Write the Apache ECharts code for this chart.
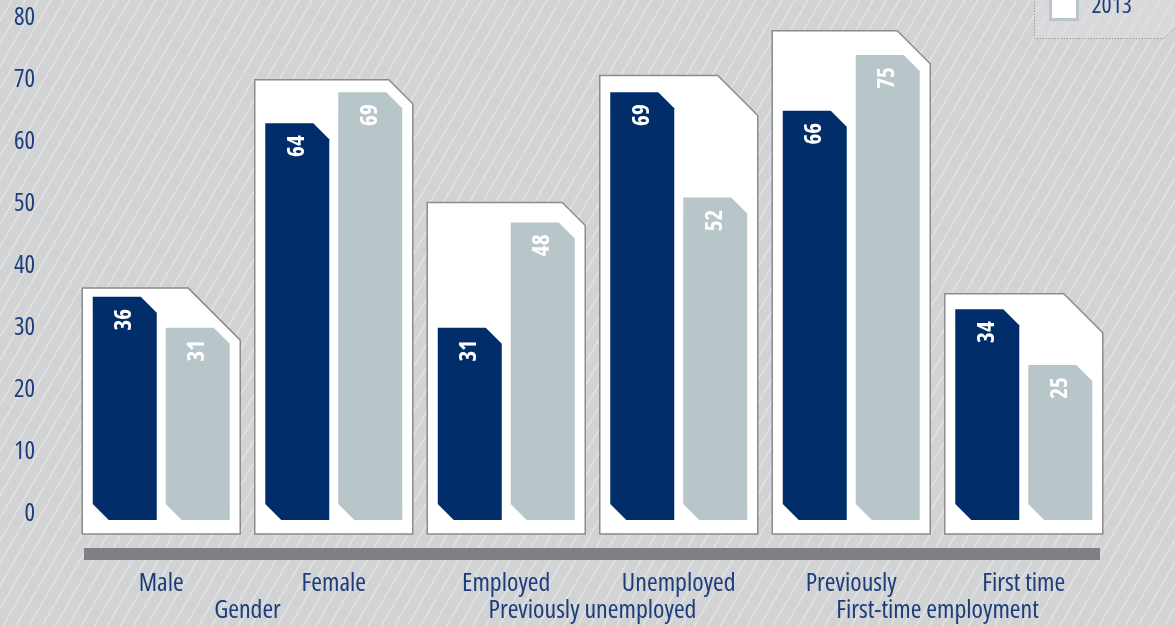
<!DOCTYPE html>
<html>
<head>
<meta charset="utf-8">
<script src="https://cdn.jsdelivr.net/npm/echarts@6/dist/echarts.min.js"></script>
<style>
  html, body { margin: 0; padding: 0; }
  body {
    width: 1175px; height: 626px; overflow: hidden;
    background: repeating-linear-gradient(120deg, #d2d3d5 0px, #d2d3d5 9.6px, #dfe0e2 9.6px, #dfe0e2 11.3px);
  }
  #chart { width: 1175px; height: 626px; }
</style>
</head>
<body>
<div id="chart"></div>
<script>
// Share of respondents by group, two survey years
const categories = ['Male', 'Female', 'Employed', 'Unemployed', 'Previously', 'First time'];
const groups = ['Gender', 'Previously unemployed', 'First-time employment'];
const values2012 = [36, 64, 31, 69, 66, 34];
const values2013 = [31, 69, 48, 52, 75, 25];
// height of the white frame drawn behind each pair of bars
const frameTop = [37.4, 71.0, 51.2, 71.7, 78.9, 36.5];
const yTicks = [0, 10, 20, 30, 40, 50, 60, 70, 80];

const NAVY = '#012e6b';
const SILVER = '#b8c6ca';
const TEXT = '#1c3d7c';
const frameCorner = [52, 24, 23, 40, 33, 39];

// Pick the narrowest installed sans face (condensed width if the family offers one)
const FONT = (function () {
  const ctx = document.createElement('canvas').getContext('2d');
  const probe = 'Employed';
  function exists(family) {
    ctx.font = '40px monospace';
    const a = ctx.measureText('Employed 0123 Wil').width;
    ctx.font = '40px ' + family + ', monospace';
    const b = ctx.measureText('Employed 0123 Wil').width;
    return Math.abs(a - b) > 0.5;
  }
  function width(stretch, family) {
    ctx.font = '10px serif';
    const f = stretch + ' normal 24px ' + family;
    ctx.font = f;
    if (ctx.font === '10px serif') return Infinity;
    return ctx.measureText(probe).width;
  }
  const cands = [
    ["'Liberation Sans Narrow'", ''],
    ['Roboto', 'condensed'],
    ["'Open Sans'", 'condensed'],
    ["'Noto Sans'", 'condensed'],
    ["'DejaVu Sans'", 'condensed'],
    ["'Liberation Sans'", '']
  ];
  let best = { family: "'Liberation Sans', sans-serif", stretch: '', w: width('', "'Liberation Sans'") };
  cands.forEach(function (c) {
    if (!exists(c[0])) return;
    const w = width(c[1], c[0]);
    if (w < best.w - 0.5) best = { family: c[0] + ', sans-serif', stretch: c[1], w: w };
  });
  // scale so that the label widths come out close to the artwork
  const k = Math.max(0.82, Math.min(1.08, 92 / best.w));
  return { family: best.family, stretch: best.stretch, k: k };
})();

function fs(px) { return Math.round(px * FONT.k * 10) / 10; }
function textStyleOf(px, extra) {
  const s = { color: TEXT, fontSize: fs(px), fontFamily: FONT.family };
  if (FONT.stretch) s.fontStyle = FONT.stretch;
  return Object.assign(s, extra || {});
}

function barRenderer(side, color) {
  return function (params, api) {
    const i = api.value(0);
    const v = api.value(1);
    const top = api.coord([i, v]);
    const base = api.coord([i, 0]);
    const band = api.size([1, 0])[0];
    const w = band * 0.371;
    const cx = top[0] + side * band * 0.2115;
    const x0 = cx - w / 2, x1 = cx + w / 2;
    const c = 16;
    const yt = top[1], yb = base[1];
    const labelStyle = {
      text: String(v), fill: '#ffffff',
      fontSize: fs(21.5), fontWeight: 'bold', fontFamily: FONT.family,
      align: 'right', verticalAlign: 'middle'
    };
    if (FONT.stretch) labelStyle.fontStyle = FONT.stretch;
    return {
      type: 'group',
      children: [
        {
          type: 'polygon',
          shape: { points: [[x0, yt], [x1 - c, yt], [x1, yt + c], [x1, yb], [x0 + c, yb], [x0, yb - c]] },
          style: { fill: color }
        },
        {
          type: 'text',
          x: cx, y: yt + 12,
          rotation: Math.PI / 2,
          style: labelStyle
        }
      ]
    };
  };
}

function frameRenderer(params, api) {
  const i = api.value(0);
  const v = api.value(1);
  const top = api.coord([i, v]);
  const base = api.coord([i, 0]);
  const band = api.size([1, 0])[0];
  const w = band * 0.916;
  const x0 = top[0] - w / 2, x1 = top[0] + w / 2;
  const yt = top[1], yb = base[1] + 14;
  const c = frameCorner[params.dataIndex];
  return {
    type: 'polygon',
    shape: { points: [[x0, yt], [x1 - c, yt], [x1, yt + c], [x1, yb], [x0, yb]] },
    style: { fill: '#ffffff', stroke: '#8c8c8e', lineWidth: 1.5 }
  };
}

const chart = echarts.init(document.getElementById('chart'), null, { renderer: 'canvas' });

chart.setOption({
  backgroundColor: 'transparent',
  animation: false,
  grid: { left: 75, right: 65, top: 24, bottom: 106 },
  legend: {
    orient: 'vertical',
    left: 1049, top: -48,
    padding: 0,
    itemGap: 12,
    itemWidth: 27, itemHeight: 27,
    icon: 'rect',
    textStyle: textStyleOf(22, { padding: [0, 0, 0, 9] }),
    data: [
      { name: '2012', itemStyle: { color: NAVY } },
      { name: '2013', itemStyle: { color: '#ffffff', borderColor: SILVER, borderWidth: 3 } }
    ]
  },
  xAxis: [
    {
      type: 'category',
      data: categories,
      axisLine: { show: false },
      axisTick: { show: false },
      axisLabel: textStyleOf(24, { interval: 0, margin: 51 })
    },
    {
      type: 'category',
      position: 'bottom',
      data: groups,
      axisLine: { show: false },
      axisTick: { show: false },
      axisLabel: textStyleOf(24, { interval: 0, margin: 78 })
    }
  ],
  yAxis: {
    type: 'value',
    min: 0, max: 80, interval: 10,
    axisLine: { show: false },
    axisTick: { show: false },
    splitLine: { show: false },
    axisLabel: textStyleOf(23, {
      margin: 40,
      verticalAlign: 'bottom',
      lineHeight: 12,
      formatter: function (v) { return yTicks.indexOf(v) >= 0 ? String(v) : ''; }
    })
  },
  graphic: [
    {
      type: 'rect',
      left: 84, top: 548,
      shape: { width: 1016, height: 12 },
      style: { fill: '#807f83' },
      z: 0
    },
    {
      type: 'polygon',
      shape: { points: [[1034.5, -10], [1180, -10], [1180, 23], [1164, 38.5], [1034.5, 38.5]] },
      style: { fill: 'rgba(222,223,225,0.55)', stroke: '#858587', lineWidth: 1, lineDash: [1, 2] },
      z: 0
    }
  ],
  series: [
    {
      name: 'frame',
      type: 'custom',
      z: 1,
      silent: true,
      renderItem: frameRenderer,
      data: categories.map(function (c, i) { return [i, frameTop[i]]; })
    },
    {
      name: '2012',
      type: 'custom',
      z: 2,
      itemStyle: { color: NAVY },
      renderItem: barRenderer(-1, NAVY),
      data: categories.map(function (c, i) { return [i, values2012[i]]; })
    },
    {
      name: '2013',
      type: 'custom',
      z: 2,
      itemStyle: { color: SILVER },
      renderItem: barRenderer(1, SILVER),
      data: categories.map(function (c, i) { return [i, values2013[i]]; })
    }
  ]
});
</script>
</body>
</html>
